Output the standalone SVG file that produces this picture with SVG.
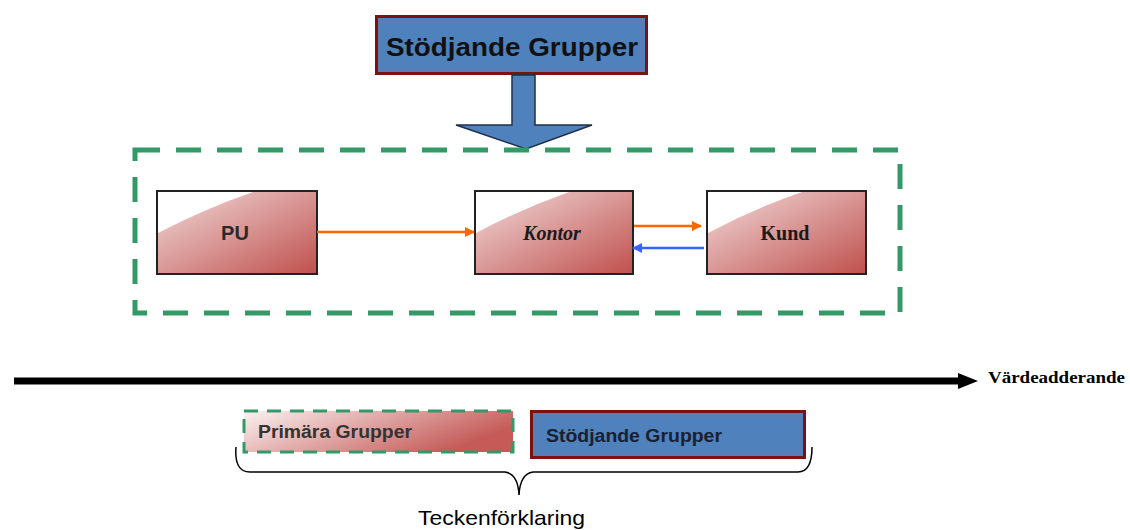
<svg xmlns="http://www.w3.org/2000/svg" width="1130" height="530" viewBox="0 0 1130 530">
<defs>
<linearGradient id="redg" x1="0" y1="0" x2="1" y2="1">
<stop offset="0" stop-color="#f2dcdc"/>
<stop offset="1" stop-color="#c0504d"/>
</linearGradient>
<linearGradient id="redl" x1="0" y1="0" x2="1" y2="0.4">
<stop offset="0" stop-color="#fbf2f2"/>
<stop offset="1" stop-color="#c55a57"/>
</linearGradient>
<marker id="ao" viewBox="0 0 10 10" refX="9" refY="5" markerWidth="4" markerHeight="4" orient="auto" markerUnits="strokeWidth"><path d="M0,0 L10,5 L0,10 z" fill="#ff6600"/></marker>
<marker id="ab" viewBox="0 0 10 10" refX="9" refY="5" markerWidth="4" markerHeight="4" orient="auto" markerUnits="strokeWidth"><path d="M0,0 L10,5 L0,10 z" fill="#3366ff"/></marker>
</defs>
<style>
.box{fill:url(#redg);stroke:#222;stroke-width:2}
.hl{fill:#ffffff}
.lbl{font-family:"Liberation Sans",Arial,sans-serif;font-weight:bold;font-size:20px;fill:#2a2a2a;text-anchor:middle}
.ser{font-family:"Liberation Serif","Times New Roman",serif;font-weight:bold;font-size:20px;fill:#1a1a1a;text-anchor:middle}
.dash{fill:none;stroke:#339966;stroke-width:5;stroke-dasharray:25 16}
.blue{fill:#4f81bd;stroke:#7b1111;stroke-width:3}
</style>
<g id="stodjande-top">
<rect class="blue" x="376.5" y="16.5" width="270" height="57"/>
<rect x="381" y="21" width="261" height="48" fill="none" stroke="#6a78a8" stroke-width="1"/>
<text x="386" y="56" font-family="Liberation Sans,Arial,sans-serif" font-weight="bold" font-size="25" fill="#111" textLength="252" lengthAdjust="spacingAndGlyphs">Stödjande Grupper</text>
</g>
<g id="big-arrow">
<path d="M512,75 L535,75 L535,125 L592,125 L526,149 L456,125 L512,125 z" fill="#4f81bd" stroke="#1f2f4a" stroke-width="1.5"/>
</g>
<g id="primary-group">
<rect class="dash" x="135" y="150" width="765" height="163"/>
</g>
<g id="pu">
<rect class="box" x="157" y="191" width="160" height="83"/>
<path class="hl" d="M158,192 L253,192 Q204,209 158,233 z"/>
<text class="lbl" x="235" y="240">PU</text>
</g>
<g id="kontor">
<rect class="box" x="475" y="191" width="158" height="83"/>
<path class="hl" d="M476,192 L569,192 Q521,209 476,233 z"/>
<text class="ser" x="552" y="240" font-style="italic">Kontor</text>
</g>
<g id="kund">
<rect class="box" x="707" y="191" width="159" height="83"/>
<path class="hl" d="M708,192 L802,192 Q753,209 708,233 z"/>
<text class="ser" x="785" y="240">Kund</text>
</g>
<g id="connectors">
<line x1="317" y1="232" x2="474" y2="232" stroke="#ff6600" stroke-width="2.5" marker-end="url(#ao)"/>
<line x1="634" y1="226" x2="701" y2="226" stroke="#ff6600" stroke-width="2.5" marker-end="url(#ao)"/>
<line x1="704" y1="248" x2="633" y2="248" stroke="#3366ff" stroke-width="2.5" marker-end="url(#ab)"/>
<line x1="14" y1="381" x2="962" y2="381" stroke="#000" stroke-width="7"/>
<path d="M958,373 L978,381 L958,389 z" fill="#000"/>
</g>
<g id="axis-label">
<text x="988" y="383" font-family="Liberation Serif,Times New Roman,serif" font-weight="bold" font-size="16" fill="#000" textLength="137" lengthAdjust="spacingAndGlyphs">Värdeadderande</text>
</g>
<g id="legend-primary">
<rect x="244" y="411" width="269" height="41" fill="url(#redl)"/>
<rect x="244" y="411" width="269" height="41" fill="none" stroke="#339966" stroke-width="3" stroke-dasharray="14 9"/>
<text x="258" y="438" font-family="Liberation Sans,Arial,sans-serif" font-weight="bold" font-size="18" fill="#333" textLength="154" lengthAdjust="spacingAndGlyphs">Primära Grupper</text>
</g>
<g id="legend-stodjande">
<rect class="blue" x="531.5" y="411.5" width="273" height="46"/>
<rect x="536" y="416" width="264" height="37" fill="none" stroke="#6a78a8" stroke-width="1"/>
<text x="546" y="442" font-family="Liberation Sans,Arial,sans-serif" font-weight="bold" font-size="18" fill="#1a2030" textLength="176" lengthAdjust="spacingAndGlyphs">Stödjande Grupper</text>
</g>
<g id="legend-brace">
<path d="M236,447 Q234,472 250,472 L505,472 Q518,474 519,495 Q520,474 533,472 L798,472 Q812,472 812,447" fill="none" stroke="#000" stroke-width="1.5"/>
<text x="418" y="525" font-family="Liberation Sans,Arial,sans-serif" font-size="21" fill="#000" textLength="167" lengthAdjust="spacingAndGlyphs">Teckenförklaring</text>
</g>
</svg>
